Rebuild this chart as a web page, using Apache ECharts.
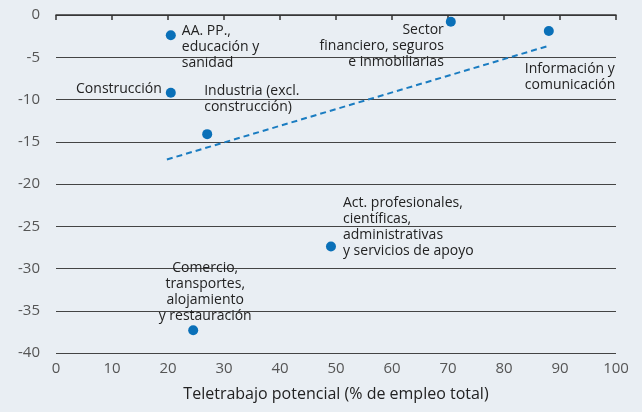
<!DOCTYPE html>
<html>
<head>
<meta charset="utf-8">
<script src="https://cdn.jsdelivr.net/npm/echarts@6/dist/echarts.min.js"></script>
<style>
html,body{margin:0;padding:0;background:#e9eef3;}
#c{width:642px;height:412px;}
</style>
</head>
<body>
<div id="c"></div>
<script>
// Data
var sectors = [
  "AA. PP.,\neducación y\nsanidad",
  "Construcción",
  "Industria (excl.\nconstrucción)",
  "Sector\nfinanciero, seguros\ne inmobiliarias",
  "Información y\ncomunicación",
  "Act. profesionales,\ncientíficas,\nadministrativas\ny servicios de apoyo",
  "Comercio,\ntransportes,\nalojamiento\ny restauración"
];
var teleworkX = [20.5, 20.5, 27.0, 70.5, 88.0, 49.1, 24.5];
var changeY = [-2.4, -9.2, -14.1, -0.8, -1.9, -27.4, -37.3];
var trendX = [19.8, 88.2];
var trendY = [-17.1, -3.6];
var xTicks = [0, 10, 20, 30, 40, 50, 60, 70, 80, 90, 100];
var yTicks = [0, -5, -10, -15, -20, -25, -30, -35, -40];

// Label layout (styling only)
var labelLayout = [
  {align: 'left', offset: [11, 12]},
  {align: 'right', offset: [-9, -4]},
  {align: 'left', offset: [-3, -35]},
  {align: 'right', offset: [-7, 24]},
  {align: 'left', offset: [-24, 46]},
  {align: 'left', offset: [12, -19.5]},
  {align: 'center', offset: [12, -38.5]}
];

var FONT = '"Open Sans", "Noto Sans", sans-serif';

var scatterData = sectors.map(function (name, i) {
  return {
    name: name,
    value: [teleworkX[i], changeY[i]],
    label: {
      show: true,
      position: 'inside',
      formatter: name,
      align: labelLayout[i].align,
      verticalAlign: 'middle',
      offset: labelLayout[i].offset,
      color: '#222',
      fontSize: 14,
      lineHeight: 16,
      fontFamily: FONT
    }
  };
});

var chart = echarts.init(document.getElementById('c'), null, {renderer: 'canvas'});
chart.setOption({
  backgroundColor: '#e9eef3',
  animation: false,
  grid: {left: 56, right: 26, top: 15, bottom: 59},
  xAxis: [{
    type: 'value', min: xTicks[0], max: xTicks[xTicks.length - 1], interval: 10,
    position: 'bottom',
    name: 'Teletrabajo potencial (% de empleo total)',
    nameLocation: 'middle', nameGap: 33,
    nameTextStyle: {color: '#222', fontSize: 16, fontFamily: FONT},
    axisLine: {show: false}, axisTick: {show: false},
    axisLabel: {color: '#555', fontSize: 15, margin: 8, fontFamily: FONT},
    splitLine: {show: false}
  }, {
    type: 'value', min: xTicks[0], max: xTicks[xTicks.length - 1], interval: 10,
    position: 'top',
    axisLine: {show: true, lineStyle: {color: '#333', width: 1.5}},
    axisTick: {show: true, inside: true, length: 5, lineStyle: {color: '#333', width: 1.5}},
    axisLabel: {show: false},
    splitLine: {show: false}
  }],
  yAxis: {
    type: 'value', min: yTicks[yTicks.length - 1], max: yTicks[0], interval: 5,
    axisLine: {show: false}, axisTick: {show: false},
    axisLabel: {color: '#555', fontSize: 15, margin: 16, fontFamily: FONT},
    splitLine: {show: true, lineStyle: {color: '#444', width: 1}}
  },
  series: [{
    type: 'line',
    data: trendX.map(function (x, i) { return [x, trendY[i]]; }),
    symbol: 'none',
    lineStyle: {color: '#1a7cc1', width: 2, type: [6, 4]},
    z: 2
  }, {
    type: 'scatter',
    data: scatterData,
    symbolSize: 10,
    itemStyle: {color: '#0a70b8', opacity: 1},
    z: 3
  }]
});
</script>
</body>
</html>
